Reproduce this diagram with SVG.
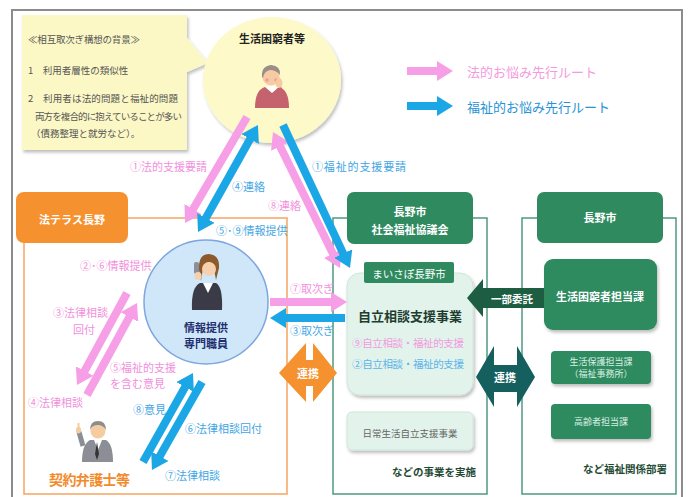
<svg xmlns="http://www.w3.org/2000/svg" width="689" height="497" viewBox="0 0 689 497">
  <style>
    text { font-family: "Noto Sans CJK JP", "Noto Sans", sans-serif; }
    .pinkTxt { fill: #f28fdc; font-size: 11px; }
    .blueTxt { fill: #3fa6e4; font-size: 11px; }
    .note { fill: #555; font-size: 9.5px; }
    .white { fill: #fff; }
    .b { font-weight: bold; }
    .pinkBar { stroke: #f69ee6; stroke-width: 8; fill: none; }
    .blueBar { stroke: #1ba6e6; stroke-width: 8; fill: none; }
    .gframe { stroke: #4f9a80; stroke-width: 1.5; fill: none; }
    .oframe { stroke: #f6a560; stroke-width: 1.5; fill: none; }
    .gbox { fill: #2f8a5f; }
  </style>
  <defs>
    <marker id="headPink" viewBox="0 0 16 20" refX="4" refY="10" markerWidth="16" markerHeight="20" markerUnits="userSpaceOnUse" orient="auto-start-reverse">
      <path d="M0,0 L16,10 L0,20 Z" fill="#f69ee6"/>
    </marker>
    <marker id="headBlue" viewBox="0 0 16 20" refX="4" refY="10" markerWidth="16" markerHeight="20" markerUnits="userSpaceOnUse" orient="auto-start-reverse">
      <path d="M0,0 L16,10 L0,20 Z" fill="#1ba6e6"/>
    </marker>
    <filter id="shadow" x="-20%" y="-20%" width="140%" height="150%">
      <feDropShadow dx="1.5" dy="2.5" stdDeviation="1.8" flood-color="#000" flood-opacity="0.25"/>
    </filter>
  </defs>

  <rect width="689" height="497" fill="#fff"/>
  <!-- outer frame -->
  <rect x="12" y="10" width="670" height="500" fill="none" stroke="#8c8c8c" stroke-width="2"/>

  <!-- background note callout -->
  <g id="note">
    <path d="M22,15 H187 V38 L208,63 L187,72 V150 H22 Z" fill="#fcf8c6" filter="url(#shadow)"/>
    <text class="note" x="28" y="43" textLength="112">≪相互取次ぎ構想の背景≫</text>
    <text class="note" x="28" y="74">1　利用者層性の類似性</text>
    <text class="note" x="28" y="102" textLength="150">2　利用者は法的問題と福祉的問題</text>
    <text class="note" x="35" y="120" textLength="147">両方を複合的に抱えていることが多い</text>
    <text class="note" x="31" y="137">（債務整理と就労など）。</text>
  </g>

  <!-- legend -->
  <g id="legend">
    <line class="pinkBar" x1="407" y1="71" x2="441" y2="71" marker-end="url(#headPink)" stroke-width="10"/>
    <text x="467" y="77" fill="#f49be0" font-size="13">法的お悩み先行ルート</text>
    <line class="blueBar" x1="407" y1="106" x2="441" y2="106" marker-end="url(#headBlue)" stroke-width="10"/>
    <text x="467" y="112" fill="#2a93d6" font-size="13">福祉的お悩み先行ルート</text>
  </g>

  <!-- person in need -->
  <g id="person-in-need">
    <ellipse cx="272" cy="80" rx="69" ry="63" fill="#fdf9c8" filter="url(#shadow)"/>
    <text x="272" y="43" text-anchor="middle" font-size="11" class="b" fill="#222">生活困窮者等</text>
    <path d="M255,108 Q255,90 265,87 L279,87 Q289,90 289,108 Z" fill="#c4626d"/>
    <path d="M265,87 L272,93 L279,87 L276,86 L268,86 Z" fill="#fff"/>
    <circle cx="271" cy="77" r="8.5" fill="#f6cba3"/>
    <path d="M262,77 Q261,66 271,65 Q281,66 280,75 Q276,70 270,70 Q264,71 263,78 Z" fill="#9a8e86"/>
    <circle cx="267" cy="80" r="1.8" fill="#f39a9a"/>
    <circle cx="276" cy="80" r="1.8" fill="#f39a9a"/>
    <ellipse cx="279" cy="83" rx="3.5" ry="5" fill="#f6cba3"/>
    <path d="M279,88 L283,100" stroke="#c4626d" stroke-width="5"/>
  </g>

  <!-- Houterasu Nagano -->
  <g id="houterasu">
    <path class="oframe" d="M24,243 V494 H287 V218 H128"/>
    <rect x="16" y="192" width="112" height="51" rx="8" fill="#f5922f"/>
    <text x="72" y="224" text-anchor="middle" font-size="11" class="white b">法テラス長野</text>
  </g>

  <!-- information officer -->
  <g id="officer">
    <circle cx="206" cy="302" r="62" fill="#d0e7fa" stroke="#7ea6df" stroke-width="1.5"/>
    <path d="M192,310 Q191,287 200,283 L216,283 Q223,287 222,310 Z" fill="#3b3a47"/>
    <path d="M203,283 L208,293 L213,283 Z" fill="#fff"/>
    <path d="M199,270 Q198,254 209,254 Q220,255 219,268 L216,280 Q213,262 209,262 Q203,263 201,281 Z" fill="#8d5a2c"/>
    <circle cx="209" cy="269" r="7" fill="#f7d1ad"/>
    <rect x="194" y="262" width="5" height="12" rx="2" fill="#8c8f99"/>
    <ellipse cx="198" cy="276" rx="3.5" ry="4" fill="#f7d1ad"/>
    <text x="206" y="332" text-anchor="middle" font-size="11" class="b" fill="#1f2f6e">情報提供</text>
    <text x="206" y="348" text-anchor="middle" font-size="11" class="b" fill="#1f2f6e">専門職員</text>
  </g>

  <!-- contract lawyer -->
  <g id="lawyer">
    <path d="M82,462 Q82,444 90,440 L106,440 Q113,444 113,462 Z" fill="#8b8e95"/>
    <path d="M94,440 L98,450 L102,440 Z" fill="#fff"/>
    <path d="M97,442 L99,454 L97,460 L95,454 Z" fill="#333"/>
    <circle cx="98" cy="431" r="7.5" fill="#f5cba2"/>
    <path d="M90,430 Q90,421 98,421 Q106,421 106,430 Q103,425 98,425 Q92,425 90,430 Z" fill="#8d8d8d"/>
    <path d="M83,446 L79,432" stroke="#8b8e95" stroke-width="5"/>
    <ellipse cx="78.5" cy="430" rx="2.5" ry="3.5" fill="#f5cba2"/>
    <rect x="77.5" y="423" width="2" height="6" fill="#f5cba2"/>
    <text x="49" y="485" font-size="14" class="b" fill="#f38a2a" textLength="81">契約弁護士等</text>
  </g>

  <!-- Nagano social welfare council -->
  <g id="council">
    <path class="gframe" d="M347,218 H333 V494 H487 V218 H473"/>
    <rect class="gbox" x="347" y="192" width="126" height="52" rx="7"/>
    <text x="410" y="216" text-anchor="middle" font-size="11" class="white b">長野市</text>
    <text x="410" y="234" text-anchor="middle" font-size="11" class="white b">社会福祉協議会</text>
  </g>

  <g id="self-reliance">
    <rect x="347" y="273" width="126" height="122" rx="13" fill="#e2f3eb" stroke="#cfe5da" filter="url(#shadow)"/>
    <rect class="gbox" x="364" y="262" width="90" height="21" rx="2"/>
    <text x="409" y="278" text-anchor="middle" font-size="10.5" class="white">まいさぽ長野市</text>
    <text x="410" y="321" text-anchor="middle" font-size="13" class="b" fill="#1e3d30">自立相談支援事業</text>
    <text x="408" y="347" text-anchor="middle" font-size="10.5" fill="#f29ae0" textLength="112">⑨自立相談・福祉的支援</text>
    <text x="408" y="368" text-anchor="middle" font-size="10.5" fill="#5bb4ea" textLength="112">②自立相談・福祉的支援</text>
  </g>

  <g id="daily-life">
    <rect x="347" y="412" width="126" height="38" rx="5" fill="#e2f3eb" stroke="#cfe5da" filter="url(#shadow)"/>
    <text x="410" y="437" text-anchor="middle" font-size="9.5" fill="#666">日常生活自立支援事業</text>
    <text x="476" y="476" text-anchor="end" font-size="10.5" class="b" fill="#1e4a34">などの事業を実施</text>
  </g>

  <!-- Nagano city -->
  <g id="city">
    <path class="gframe" d="M537,218 H522 V494 H676 V218 H663"/>
    <rect class="gbox" x="537" y="192" width="126" height="51" rx="7"/>
    <text x="600" y="222" text-anchor="middle" font-size="11" class="white b">長野市</text>
  </g>

  <g id="poverty-section">
    <rect class="gbox" x="544" y="259" width="113" height="71" rx="9" filter="url(#shadow)"/>
    <text x="600" y="301" text-anchor="middle" font-size="11" class="white b">生活困窮者担当課</text>
  </g>

  <g id="welfare-section">
    <rect class="gbox" x="551" y="351" width="100" height="33" rx="4" filter="url(#shadow)"/>
    <text x="601" y="365" text-anchor="middle" font-size="9" fill="#d9efe3">生活保護担当課</text>
    <text x="601" y="377" text-anchor="middle" font-size="9" fill="#d9efe3">（福祉事務所）</text>
  </g>

  <g id="elderly-section">
    <rect class="gbox" x="551" y="404" width="100" height="35" rx="4" filter="url(#shadow)"/>
    <text x="601" y="425" text-anchor="middle" font-size="9" fill="#d9efe3">高齢者担当課</text>
    <text x="667" y="473" text-anchor="end" font-size="10.5" class="b" fill="#1e4a34">など福祉関係部署</text>
  </g>

  <!-- connectors -->
  <g id="connectors">
    <!-- top routes -->
    <line class="pinkBar" x1="247" y1="117" x2="191.1" y2="212.6" marker-end="url(#headPink)"/>
    <line class="blueBar" x1="203.9" y1="221.5" x2="252.1" y2="135.5" marker-start="url(#headBlue)" marker-end="url(#headBlue)"/>
    <line class="pinkBar" x1="278.3" y1="142.8" x2="334.7" y2="257.2" marker-start="url(#headPink)" marker-end="url(#headPink)"/>
    <line class="blueBar" x1="283" y1="125" x2="344.9" y2="257.1" marker-end="url(#headBlue)"/>
    <!-- hand-over between officer and self-reliance support -->
    <line class="pinkBar" x1="270" y1="302" x2="335" y2="302" marker-end="url(#headPink)"/>
    <line class="blueBar" x1="345" y1="318" x2="282" y2="318" marker-end="url(#headBlue)"/>
    <!-- officer and lawyer -->
    <line class="pinkBar" x1="87" y1="395" x2="131.3" y2="313.5" marker-end="url(#headPink)"/>
    <line class="pinkBar" x1="127" y1="293" x2="82.7" y2="374.5" marker-end="url(#headPink)"/>
    <line class="blueBar" x1="143" y1="462" x2="187.1" y2="383.5" marker-end="url(#headBlue)"/>
    <line class="blueBar" x1="202" y1="382" x2="157.9" y2="459.6" marker-end="url(#headBlue)"/>

    <!-- cooperation arrows -->
    <path d="M279,373 L306,343 V360 H313 V343 L337,373 L313,402 V386 H306 V402 Z" fill="#f5922f"/>
    <text x="308" y="378" text-anchor="middle" font-size="11" class="white b">連携</text>
    <path d="M476,377 L494,346 V365 H517 V346 L535,377 L517,407 V392 H494 V407 Z" fill="#155f5f"/>
    <text x="505" y="382" text-anchor="middle" font-size="11" class="white b">連携</text>
    <!-- partial outsourcing -->
    <path d="M467,298 L483,279 V288 H544 V308 H483 V317 Z" fill="#1d5e42"/>
    <text x="512" y="303" text-anchor="middle" font-size="10.5" class="white b">一部委託</text>

    <!-- labels -->
    <text class="pinkTxt" x="130" y="171" textLength="77">①法的支援要請</text>
    <text class="blueTxt" x="312" y="171" textLength="94">①福祉的支援要請</text>
    <text class="blueTxt" x="232" y="191">④連絡</text>
    <text class="pinkTxt" x="268" y="210">⑧連絡</text>
    <text class="blueTxt" x="216" y="235" font-size="10.5">⑤･⑨情報提供</text>
    <text class="pinkTxt" x="80" y="270" font-size="10.5">②･⑥情報提供</text>
    <text class="pinkTxt" x="290" y="293">⑦取次ぎ</text>
    <text class="blueTxt" x="290" y="335">③取次ぎ</text>
    <text class="pinkTxt" x="53" y="317">③法律相談</text>
    <text class="pinkTxt" x="73" y="334">回付</text>
    <text class="pinkTxt" x="110" y="372">⑤福祉的支援</text>
    <text class="pinkTxt" x="110" y="388">を含む意見</text>
    <text class="pinkTxt" x="28" y="407">④法律相談</text>
    <text class="blueTxt" x="133" y="414">⑧意見</text>
    <text class="blueTxt" x="185" y="433">⑥法律相談回付</text>
    <text class="blueTxt" x="165" y="480">⑦法律相談</text>
  </g>
</svg>
